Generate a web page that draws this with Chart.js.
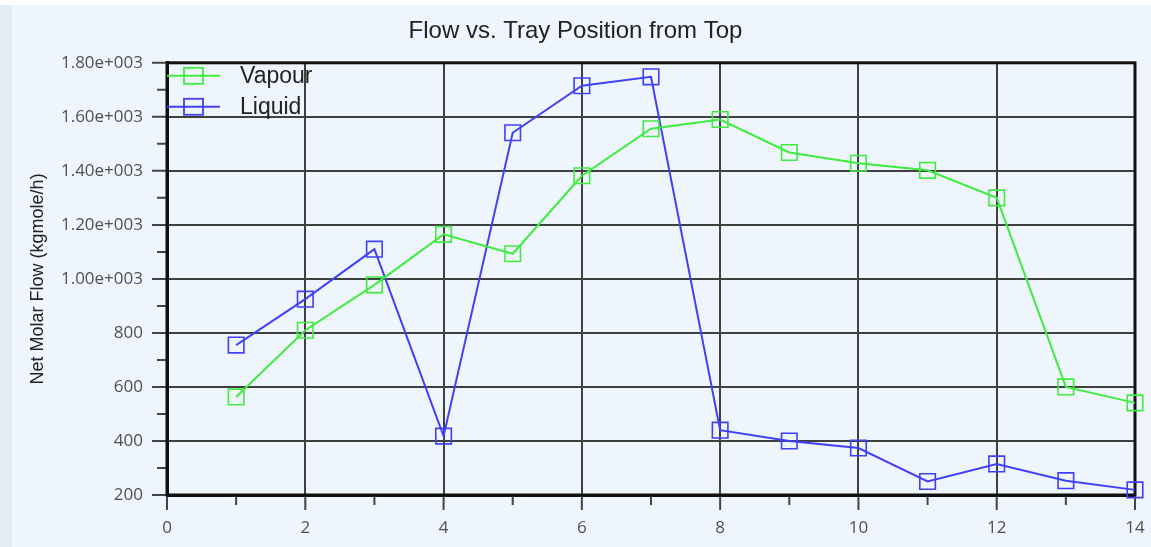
<!DOCTYPE html>
<html>
<head>
<meta charset="utf-8">
<title>Flow vs. Tray Position from Top</title>
<script src="https://cdn.jsdelivr.net/npm/chart.js@4.4.1/dist/chart.umd.min.js"></script>
<style>
  html, body { margin: 0; padding: 0; background: #ffffff; }
  #wrap { position: relative; width: 1151px; height: 547px; overflow: hidden; }
  #panel { position: absolute; left: 0; top: 5px; width: 1151px; height: 542px; background: #eef5fc; }
  #edge { position: absolute; left: 0; top: 5px; width: 12px; height: 542px; background: #e2edf8; }
  #chart { position: absolute; left: 0; top: 0; }
</style>
</head>
<body>
<div id="wrap">
  <div id="panel"></div>
  <div id="edge"></div>
  <canvas id="chart" width="1151" height="547"></canvas>
</div>
<script>
// Tray numbers counted from the top of the column
const trays = [1, 2, 3, 4, 5, 6, 7, 8, 9, 10, 11, 12, 13, 14];
// Net molar flows, kgmole/h
const vapour = [563, 810, 978, 1165, 1093, 1382, 1556, 1590, 1468, 1428, 1402, 1300, 600, 541];
const liquid = [755, 925, 1110, 418, 1541, 1715, 1748, 440, 400, 374, 250, 315, 253, 219];
// Labelled tick values on each axis
const xTicks = [0, 2, 4, 6, 8, 10, 12, 14];
const yTicks = [200, 400, 600, 800, 1000, 1200, 1400, 1600, 1800];

const seriesNames = ['Vapour', 'Liquid'];
const seriesColors = ['rgb(64, 236, 64)', 'rgb(64, 64, 246)'];

function fmtFlow(v) {
  if (v >= 1000) {
    const e = Math.floor(Math.log10(v));
    return (v / Math.pow(10, e)).toFixed(2) + 'e+' + String(e).padStart(3, '0');
  }
  return String(v);
}

const toPoints = vals => trays.map((t, i) => ({ x: t, y: vals[i] }));

// Frame, minor/major tick marks and the in-plot legend
const framePlugin = {
  id: 'frame',
  beforeDatasetsDraw(chart) {
    const { ctx, chartArea: a, scales: { x, y } } = chart;
    ctx.save();
    ctx.strokeStyle = '#444444';
    ctx.lineWidth = 2;
    ctx.beginPath();
    for (let v = x.min; v <= x.max; v += 1) {
      const px = x.getPixelForValue(v);
      const len = (v % 2 === 0) ? 15 : 10;
      ctx.moveTo(px, a.bottom);
      ctx.lineTo(px, a.bottom + len);
    }
    for (let v = y.min; v <= y.max; v += 100) {
      const py = y.getPixelForValue(v);
      const len = (v % 200 === 0) ? 15 : 10;
      ctx.moveTo(a.left, py);
      ctx.lineTo(a.left - len, py);
    }
    ctx.stroke();
    ctx.strokeStyle = '#111111';
    ctx.lineWidth = 3;
    ctx.strokeRect(a.left, a.top, a.right - a.left, a.bottom - a.top);
    ctx.restore();
  },
  afterDatasetsDraw(chart) {
    const { ctx, chartArea: a } = chart;
    ctx.save();
    chart.data.datasets.forEach((ds, i) => {
      const cy = a.top + 13 + i * 31;
      ctx.strokeStyle = ds.borderColor;
      ctx.lineWidth = 2;
      ctx.beginPath();
      ctx.moveTo(a.left, cy);
      ctx.lineTo(a.left + 53, cy);
      ctx.stroke();
      ctx.lineWidth = 1.8;
      ctx.strokeRect(a.left + 17, cy - 8, 19, 16);
      ctx.fillStyle = '#232323';
      ctx.font = '23px "Liberation Sans", Arial, sans-serif';
      ctx.textAlign = 'left';
      ctx.textBaseline = 'middle';
      ctx.fillText(ds.label, a.left + 73, cy + 1);
    });
    ctx.restore();
  }
};

new Chart(document.getElementById('chart'), {
  type: 'line',
  data: {
    datasets: [
      {
        label: seriesNames[0],
        data: toPoints(vapour),
        borderColor: seriesColors[0],
        backgroundColor: 'rgba(0,0,0,0)',
        borderWidth: 2,
        pointStyle: 'rect',
        pointRadius: 11,
        pointBorderWidth: 1.6,
        pointBackgroundColor: 'rgba(0,0,0,0)',
        pointBorderColor: seriesColors[0],
        tension: 0,
        clip: false
      },
      {
        label: seriesNames[1],
        data: toPoints(liquid),
        borderColor: seriesColors[1],
        backgroundColor: 'rgba(0,0,0,0)',
        borderWidth: 2,
        pointStyle: 'rect',
        pointRadius: 11,
        pointBorderWidth: 1.6,
        pointBackgroundColor: 'rgba(0,0,0,0)',
        pointBorderColor: seriesColors[1],
        tension: 0,
        clip: false
      }
    ]
  },
  options: {
    responsive: false,
    animation: false,
    devicePixelRatio: 1,
    layout: { autoPadding: false, padding: 0 },
    plugins: {
      legend: { display: false },
      tooltip: { enabled: false },
      title: {
        display: true,
        text: 'Flow vs. Tray Position from Top',
        color: '#222222',
        font: { family: '"Liberation Sans", Arial, sans-serif', size: 24, weight: 'normal' },
        padding: { top: 17, bottom: 17 }
      }
    },
    scales: {
      x: {
        type: 'linear',
        min: 0,
        max: 14,
        afterBuildTicks: s => { s.ticks = xTicks.map(v => ({ value: v })); },
        afterFit: s => { s.height = 52; s.paddingLeft = 0; s.paddingRight = 16; },
        grid: { color: '#404040', lineWidth: 2, drawTicks: false },
        border: { display: true, color: '#111111', width: 3 },
        ticks: {
          color: '#505050',
          padding: 23,
          maxRotation: 0,
          font: { family: '"Open Sans", sans-serif', size: 17 }
        }
      },
      y: {
        type: 'linear',
        min: 200,
        max: 1800,
        afterBuildTicks: s => { s.ticks = yTicks.map(v => ({ value: v })); },
        afterFit: s => { s.width = 167; },
        grid: { color: '#404040', lineWidth: 2, drawTicks: false },
        border: { display: true, color: '#111111', width: 3 },
        ticks: {
          color: '#505050',
          padding: 24,
          font: { family: '"Open Sans", sans-serif', size: 17 },
          callback: v => fmtFlow(v)
        },
        title: {
          display: true,
          text: 'Net Molar Flow (kgmole/h)',
          color: '#222222',
          font: { family: '"Liberation Sans", Arial, sans-serif', size: 18 },
          padding: { top: 27, bottom: 0 }
        }
      }
    }
  },
  plugins: [framePlugin]
});
</script>
</body>
</html>
